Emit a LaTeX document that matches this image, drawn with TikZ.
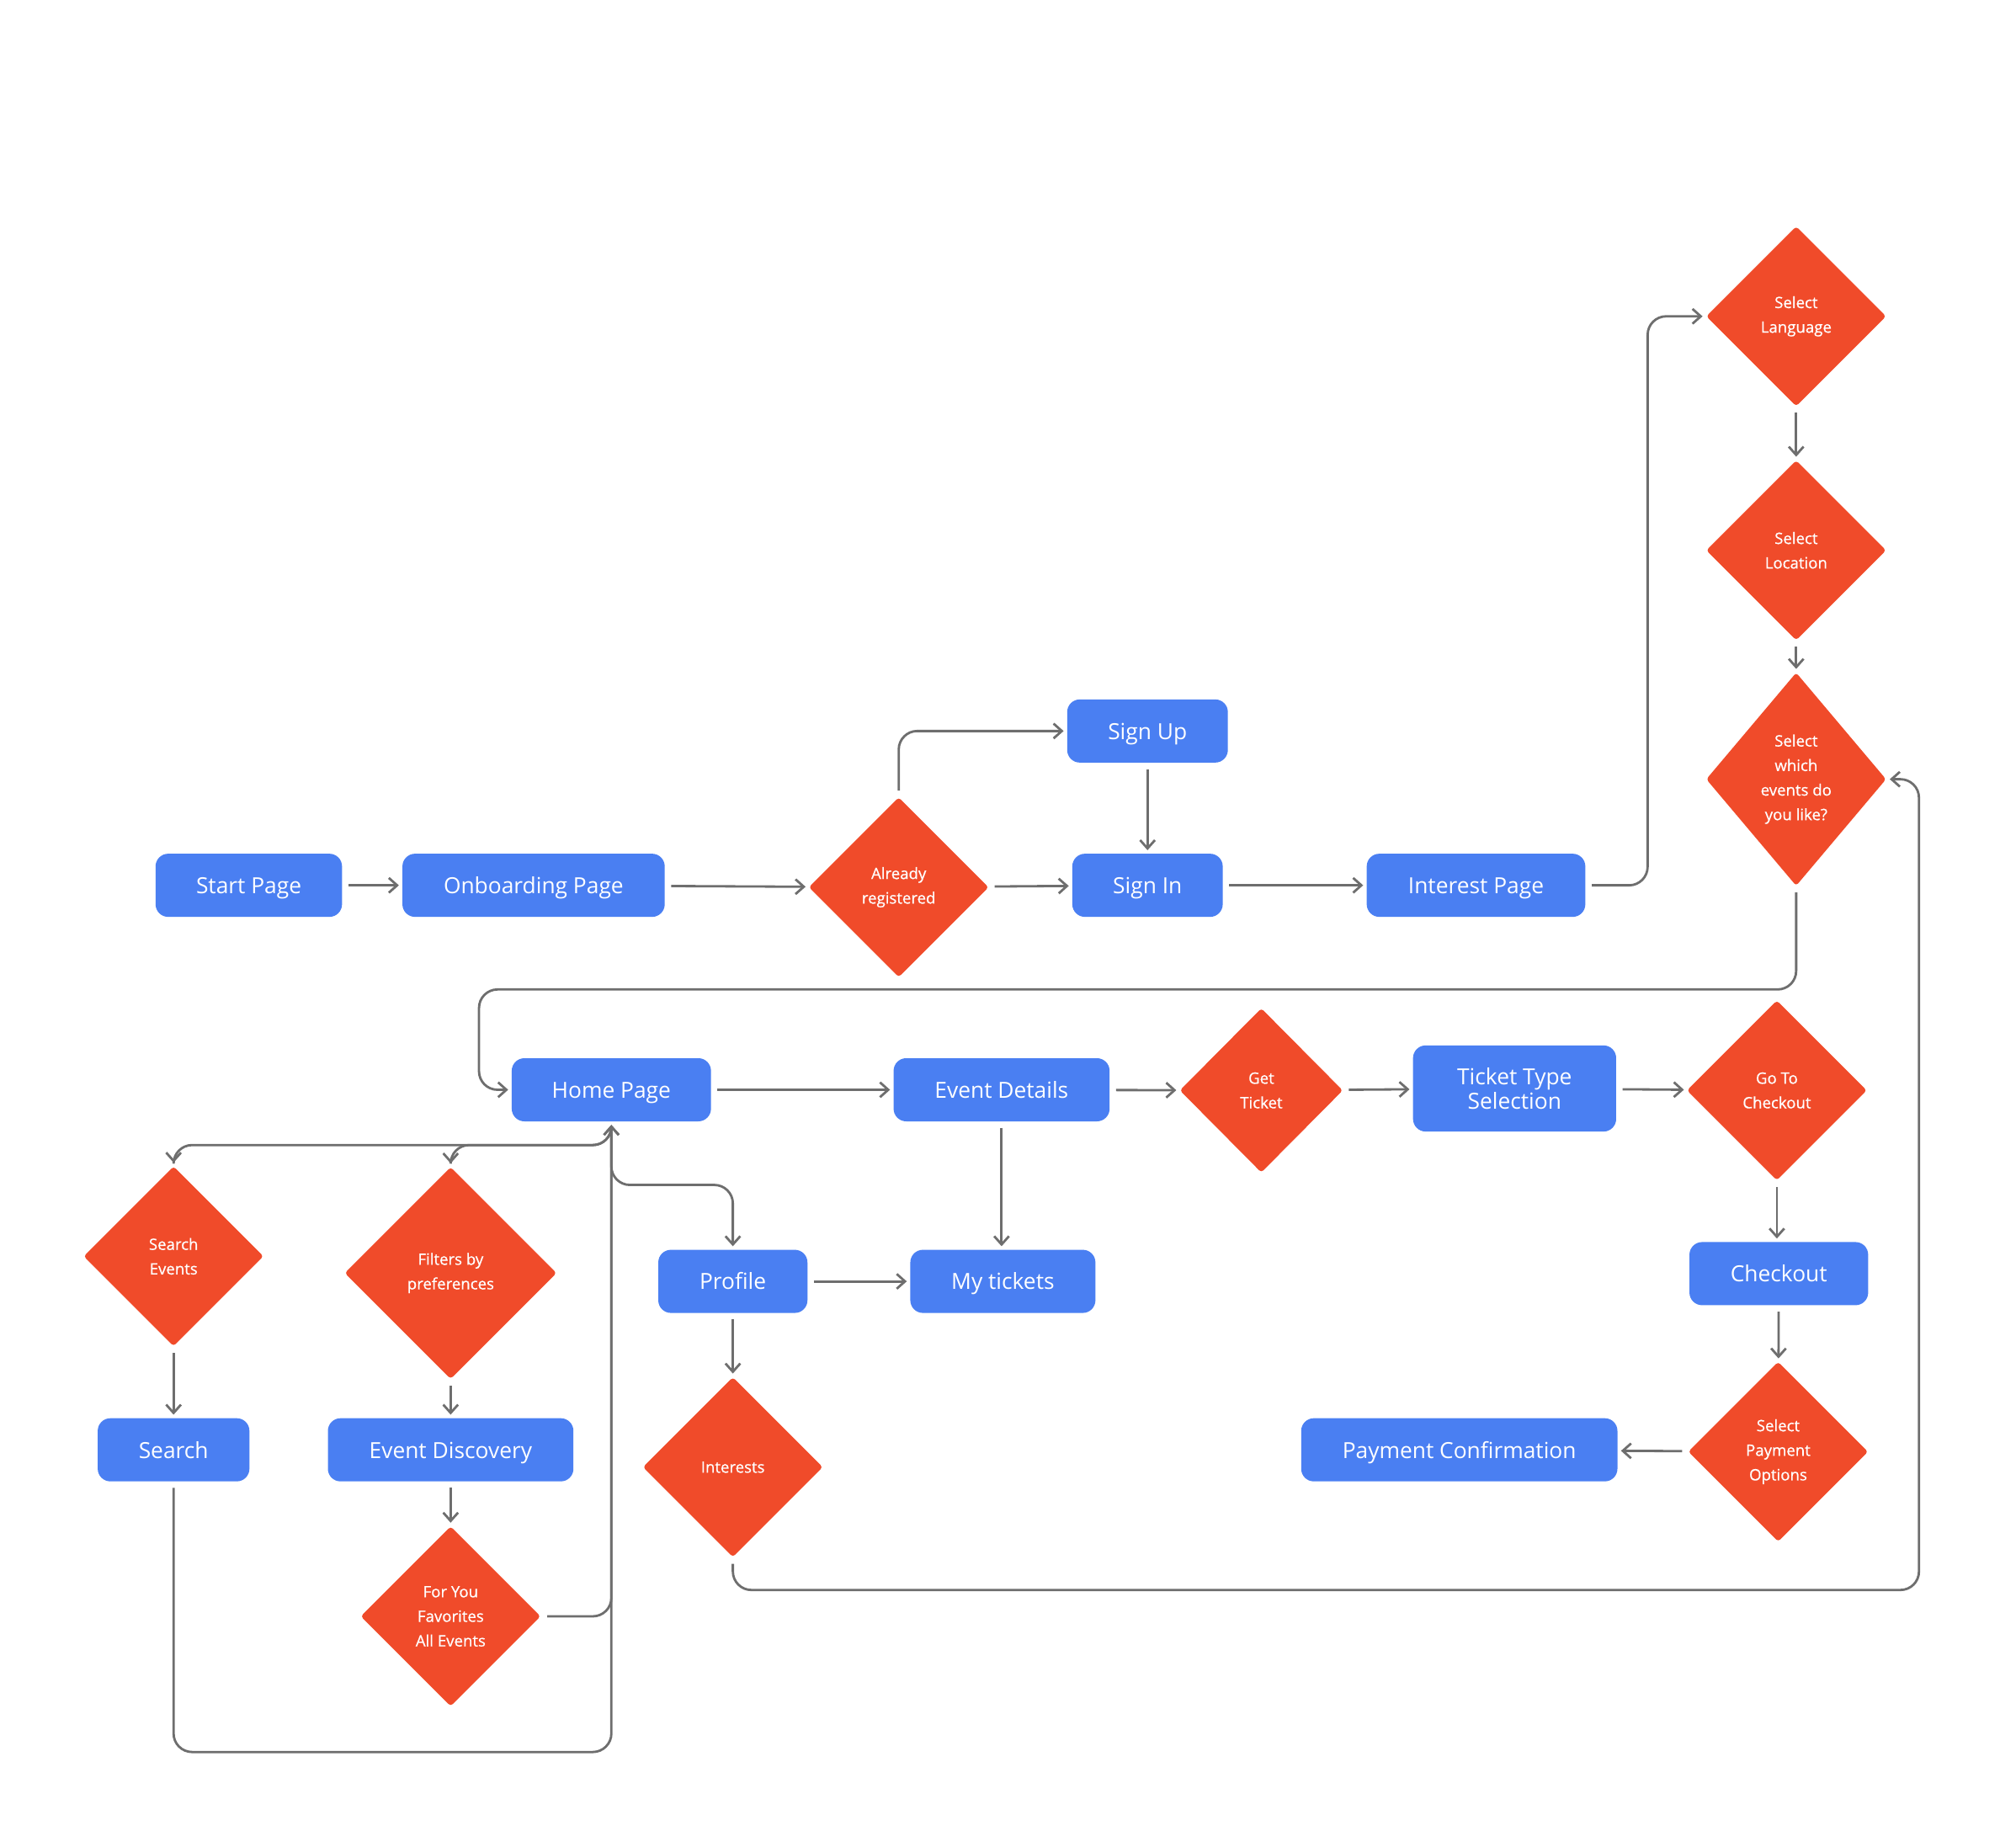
\documentclass[tikz,border=0pt]{standalone}
\usepackage{fontspec}
\setmainfont{Open Sans}
\newfontfamily\askfont[FakeBold=0.6]{Open Sans}
\usetikzlibrary{arrows.meta}
\usetikzlibrary{shapes.geometric}
\usetikzlibrary{calc}

\definecolor{pageblue}{HTML}{4A7FF2}
\definecolor{askred}{HTML}{F04B2A}
\definecolor{linegray}{HTML}{6E6E6E}

\tikzset{
  page/.style={rectangle, rounded corners=0.15cm, fill=pageblue, text=white,
    minimum height=0.75cm, inner sep=0pt, align=center,
    text height=0.76em, text depth=0.2em,
    font=\fontsize{7.5}{8.3}\selectfont},
  ask/.style={diamond, rounded corners=1pt, fill=askred, text=white,
    minimum width=2.14cm, minimum height=2.14cm, inner sep=0pt, align=center,
    font=\askfont\fontsize{5.3}{8.3}\selectfont},
  link/.style={draw=linegray, line width=0.8pt, rounded corners=0.22cm,
    -{Straight Barb[length=2.8pt,width=5pt]}, shorten <=2pt, shorten >=1pt},
}

\begin{document}
\begin{tikzpicture}[x=0.015274cm, y=-0.015274cm]
  \useasboundingbox (0,0) rectangle (1568,1436);

  % 登録の流れ
  \node[page, minimum width=2.215cm] (start) at (193.5,688.5) {Start Page};
  \node[page, minimum width=3.116cm] (onboard) at (415,688.5) {Onboarding Page};
  \node[ask] (registered) at (699,690) {Already\\registered};
  \node[page, minimum width=1.909cm] (signup) at (892.5,568.5) {Sign Up};
  \node[page, minimum width=1.787cm] (signin) at (892.5,688.5) {Sign In};
  \node[page, minimum width=2.597cm] (interest) at (1148,688.5) {Interest Page};

  % 好みの選択
  \node[ask] (language) at (1397,246) {Select\\Language};
  \node[ask] (location) at (1397,428) {Select\\Location};
  \node[ask, minimum height=2.536cm] (likes) at (1397,606) {Select\\which\\events do\\you like?};

  % チケット購入
  \node[page, minimum width=2.367cm] (home) at (475.5,847.5) {Home Page};
  \node[page, minimum width=2.566cm] (details) at (779,847.5) {Event Details};
  \node[ask, minimum width=1.94cm, minimum height=1.955cm] (getticket) at (981,848) {Get\\Ticket};
  \node[page, minimum width=2.413cm, minimum height=1.023cm, text height={}, text depth={}] (tickettype) at (1178,846.5) {Ticket Type\\Selection};
  \node[ask] (gocheckout) at (1382,848) {Go To\\Checkout};
  \node[page, minimum width=2.123cm] (checkout) at (1383.5,990.5) {Checkout};
  \node[ask] (payoptions) at (1383,1129) {Select\\Payment\\Options};
  \node[page, minimum width=3.757cm] (payconfirm) at (1135,1127.5) {Payment Confirmation};

  % プロフィール
  \node[page, minimum width=1.772cm] (profile) at (570,996.5) {Profile};
  \node[page, minimum width=2.199cm] (mytickets) at (780,996.5) {My tickets};
  \node[ask] (interests) at (570,1141) {Interests};

  % 検索と発見
  \node[ask] (searchev) at (135,977) {Search\\Events};
  \node[ask, minimum width=2.52cm, minimum height=2.52cm] (filters) at (350.5,990) {Filters by\\preferences};
  \node[page, minimum width=1.802cm] (search) at (135,1127.5) {Search};
  \node[page, minimum width=2.917cm] (discovery) at (350.5,1127.5) {Event Discovery};
  \node[ask] (foryou) at (350.5,1257) {For You\\Favorites\\All Events};

  % 矢印
  \draw[link] (start) -- (onboard);
  \draw[link] (onboard) -- (registered);
  \draw[link] (registered) -- (signin);
  \draw[link] (registered.north) |- (signup.west);
  \draw[link] (signup) -- (signin);
  \draw[link] (signin) -- (interest);
  \draw[link] (interest.east) -- ++(48,0) |- (language.west);
  \draw[link] (language) -- (location);
  \draw[link] (location) -- (likes);
  \draw[link] (likes.south) -- ++(0,80) -| ($(home.west)+(-25,0)$) -- (home.west);

  \draw[link] (home) -- (details);
  \draw[link] (details) -- (getticket);
  \draw[link] (getticket) -- (tickettype);
  \draw[link] (tickettype) -- (gocheckout);
  \draw[link] (gocheckout.south) -- (gocheckout.south |- checkout.north);
  \draw[link] (checkout) -- (payoptions);
  \draw[link] (payoptions) -- (payconfirm);
  \draw[link] (details.south) -- (details.south |- mytickets.north);

  \draw[link] (profile) -- (mytickets);
  \draw[link] (profile) -- (interests);
  \draw[link] (interests.south) -- ++(0,25) -| ($(likes.east)+(25,0)$) -- (likes.east);

  \draw[link] (home.south) -- ++(0,18) -| (searchev.north);
  \draw[link] (home.south) -- ++(0,18) -| (filters.north);
  \draw[link] (home.south) -- ++(0,49) -| (profile.north);
  \draw[link] (searchev) -- (search);
  \draw[link] (filters) -- (discovery);
  \draw[link] (discovery) -- (foryou);
  \draw[link] (search.south) |- ($(home.south)+(0,490)$) -- (home.south);
  \draw[link] (foryou.east) -| (home.south);
\end{tikzpicture}
\end{document}
